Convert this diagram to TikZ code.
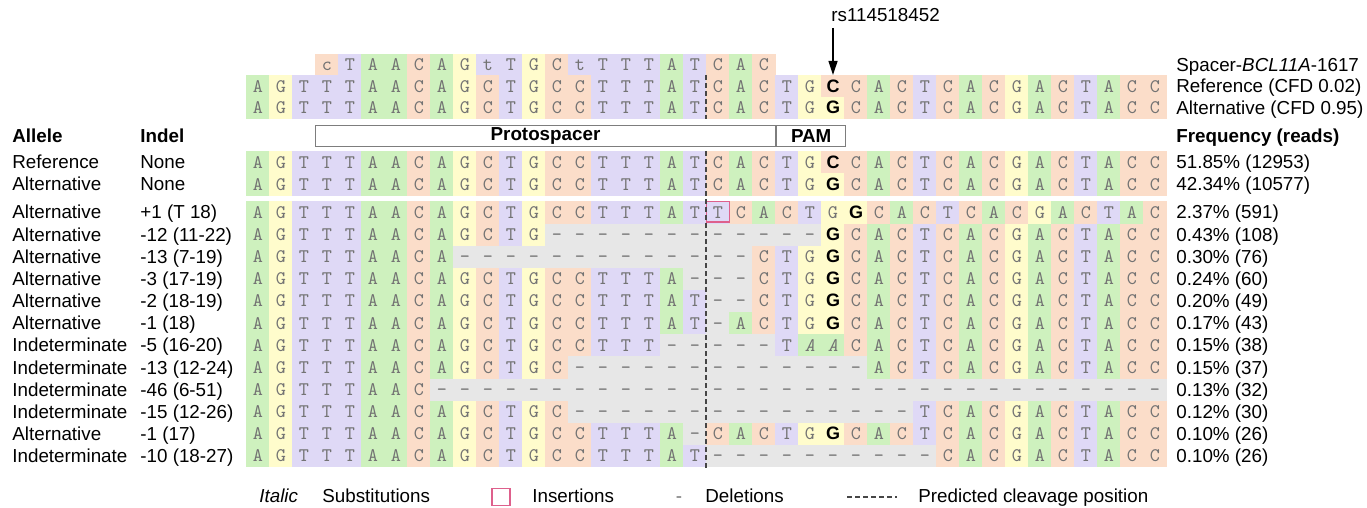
\documentclass[tikz,border=0pt]{standalone}
\usepackage{fontspec}
\setmainfont{Liberation Sans}
\setsansfont{Liberation Sans}
\usetikzlibrary{arrows.meta}

% cell colours, one per letter code
\definecolor{ntfillA}{RGB}{206,241,190}
\definecolor{ntfillC}{RGB}{251,221,201}
\definecolor{ntfillG}{RGB}{255,252,204}
\definecolor{ntfillT}{RGB}{223,217,246}
\definecolor{ntfillD}{RGB}{231,231,231}
\colorlet{ntfillc}{ntfillC}
\colorlet{ntfillt}{ntfillT}
\colorlet{ntfillX}{ntfillC}
\colorlet{ntfillY}{ntfillG}
\colorlet{ntfillI}{ntfillA}
\definecolor{ntgray}{RGB}{115,115,115}
\definecolor{boxgray}{RGB}{125,125,125}
\definecolor{insred}{RGB}{222,96,140}
\definecolor{cutgray}{RGB}{70,70,70}

% what each letter code prints
\newcommand\ntA{A}
\newcommand\ntC{C}
\newcommand\ntG{G}
\newcommand\ntT{T}
\newcommand\ntc{c}
\newcommand\ntt{t}
\newcommand\ntD{-}
\newcommand\ntX{\color{black}\sffamily\bfseries\fontsize{9}{10}\selectfont C}
\newcommand\ntY{\color{black}\sffamily\bfseries\fontsize{9}{10}\selectfont G}
\newcommand\ntI{\itshape A}

% one alignment row: name, y, first column, letter codes
\newcommand\seqrow[4]{%
  \foreach \b [count=\i from #3] in {#4}
    \node[nt=\b] (#1-\i) at ({246.5+(\i+0.5)*23}, #2) {\csname nt\b\endcsname};}

\begin{document}
\begin{tikzpicture}[
  x=0.5pt, y=-0.5pt,
  font=\fontsize{9.4}{11}\selectfont,
  lbl/.style={anchor=west, inner sep=0pt, text height=7.5pt, text depth=1pt},
  hdr/.style={lbl, font=\fontsize{9.4}{11}\selectfont\bfseries},
  nt/.style={rectangle, inner sep=0pt, minimum width=11.6pt, minimum height=11.1pt,
             text height=5.8pt, text depth=0pt, text=ntgray, fill=ntfill#1,
             font=\ttfamily\fontsize{9.6}{10}\selectfont},
  tagbox/.style={rectangle, draw=boxgray, line width=0.6pt, inner sep=0pt,
                 minimum height=10.25pt, font=\fontsize{9.4}{11}\selectfont\bfseries},
  cleave/.style={draw=cutgray, line width=0.8pt, dash pattern=on 2.5pt off 1.5pt},
  insbox/.style={draw=insred, line width=0.6pt},
  arr/.style={-{Triangle[length=7pt,width=4.5pt]}, line width=0.6pt}
]
\useasboundingbox (0,0) rectangle (1367,508);

% --- Spacer y alelos del SNP ---
\seqrow{spc}{65}{3}{c,T,A,A,C,A,G,t,T,G,C,t,T,T,T,A,T,C,A,C}
\seqrow{tref}{86.5}{0}{A,G,T,T,T,A,A,C,A,G,C,T,G,C,C,T,T,T,A,T,C,A,C,T,G,X,C,A,C,T,C,A,C,G,A,C,T,A,C,C}
\seqrow{talt}{108}{0}{A,G,T,T,T,A,A,C,A,G,C,T,G,C,C,T,T,T,A,T,C,A,C,T,G,Y,C,A,C,T,C,A,C,G,A,C,T,A,C,C}
\draw[cleave] (tref-20.north west) -- (talt-20.south west);

\node[lbl] (spclbl) at (1176,65) {Spacer-\textit{BCL11A}-1617};
\node[lbl] (treflbl) at (1176,86.5) {Reference (CFD 0.02)};
\node[lbl] (taltlbl) at (1176,108) {Alternative (CFD 0.95)};

\node[lbl] (rs) at (831,15) {rs114518452};
\path (tref-25.north |- rs.south) coordinate (rsfoot);
\draw[arr] ([yshift=-2pt]rsfoot) -- (tref-25.north);

% --- Encabezado ---
\node[hdr] (allele) at (12,136) {Allele};
\node[hdr] (indel) at (140,136) {Indel};
\node[tagbox, minimum width=230pt] (proto) at (545.5,136) {Protospacer};
\node[tagbox, minimum width=34.5pt, anchor=west] (pam) at (proto.east) {PAM};
\node[hdr] (freq) at (1176,136) {Frequency (reads)};

% --- Alelos ---
\seqrow{mref}{162.5}{0}{A,G,T,T,T,A,A,C,A,G,C,T,G,C,C,T,T,T,A,T,C,A,C,T,G,X,C,A,C,T,C,A,C,G,A,C,T,A,C,C}
\seqrow{malt}{184.5}{0}{A,G,T,T,T,A,A,C,A,G,C,T,G,C,C,T,T,T,A,T,C,A,C,T,G,Y,C,A,C,T,C,A,C,G,A,C,T,A,C,C}
\seqrow{r1}{212.5}{0}{A,G,T,T,T,A,A,C,A,G,C,T,G,C,C,T,T,T,A,T,T,C,A,C,T,G,Y,C,A,C,T,C,A,C,G,A,C,T,A,C}
\seqrow{r2}{234.65}{0}{A,G,T,T,T,A,A,C,A,G,C,T,G,D,D,D,D,D,D,D,D,D,D,D,D,Y,C,A,C,T,C,A,C,G,A,C,T,A,C,C}
\seqrow{r3}{256.8}{0}{A,G,T,T,T,A,A,C,A,D,D,D,D,D,D,D,D,D,D,D,D,D,C,T,G,Y,C,A,C,T,C,A,C,G,A,C,T,A,C,C}
\seqrow{r4}{278.95}{0}{A,G,T,T,T,A,A,C,A,G,C,T,G,C,C,T,T,T,A,D,D,D,C,T,G,Y,C,A,C,T,C,A,C,G,A,C,T,A,C,C}
\seqrow{r5}{301.1}{0}{A,G,T,T,T,A,A,C,A,G,C,T,G,C,C,T,T,T,A,T,D,D,C,T,G,Y,C,A,C,T,C,A,C,G,A,C,T,A,C,C}
\seqrow{r6}{323.25}{0}{A,G,T,T,T,A,A,C,A,G,C,T,G,C,C,T,T,T,A,T,D,A,C,T,G,Y,C,A,C,T,C,A,C,G,A,C,T,A,C,C}
\seqrow{r7}{345.4}{0}{A,G,T,T,T,A,A,C,A,G,C,T,G,C,C,T,T,T,D,D,D,D,D,T,I,I,C,A,C,T,C,A,C,G,A,C,T,A,C,C}
\seqrow{r8}{367.55}{0}{A,G,T,T,T,A,A,C,A,G,C,T,G,C,D,D,D,D,D,D,D,D,D,D,D,D,D,A,C,T,C,A,C,G,A,C,T,A,C,C}
\seqrow{r9}{389.7}{0}{A,G,T,T,T,A,A,C,D,D,D,D,D,D,D,D,D,D,D,D,D,D,D,D,D,D,D,D,D,D,D,D,D,D,D,D,D,D,D,D}
\seqrow{r10}{411.85}{0}{A,G,T,T,T,A,A,C,A,G,C,T,G,C,D,D,D,D,D,D,D,D,D,D,D,D,D,D,D,T,C,A,C,G,A,C,T,A,C,C}
\seqrow{r11}{434}{0}{A,G,T,T,T,A,A,C,A,G,C,T,G,C,C,T,T,T,A,D,C,A,C,T,G,Y,C,A,C,T,C,A,C,G,A,C,T,A,C,C}
\seqrow{r12}{456.15}{0}{A,G,T,T,T,A,A,C,A,G,C,T,G,C,C,T,T,T,A,T,D,D,D,D,D,D,D,D,D,D,C,A,C,G,A,C,T,A,C,C}

\draw[insbox] ([xshift=0.3pt,yshift=-0.3pt]r1-20.north west)
      rectangle ([xshift=-0.3pt,yshift=1pt]r1-20.south east);
\draw[cleave] (mref-20.north west) -- (r12-20.south west);

\foreach \y/\al/\ind/\fr [count=\k] in {
    162.5/Reference/None/51.85\% (12953),
    184.5/Alternative/None/42.34\% (10577),
    212.5/Alternative/+1 (T 18)/2.37\% (591),
    234.65/Alternative/-12 (11-22)/0.43\% (108),
    256.8/Alternative/-13 (7-19)/0.30\% (76),
    278.95/Alternative/-3 (17-19)/0.24\% (60),
    301.1/Alternative/-2 (18-19)/0.20\% (49),
    323.25/Alternative/-1 (18)/0.17\% (43),
    345.4/Indeterminate/-5 (16-20)/0.15\% (38),
    367.55/Indeterminate/-13 (12-24)/0.15\% (37),
    389.7/Indeterminate/-46 (6-51)/0.13\% (32),
    411.85/Indeterminate/-15 (12-26)/0.12\% (30),
    434/Alternative/-1 (17)/0.10\% (26),
    456.15/Indeterminate/-10 (18-27)/0.10\% (26)} {
  \node[lbl] (al\k) at (12,\y) {\al};
  \node[lbl] (id\k) at (140,\y) {\ind};
  \node[lbl] (fq\k) at (1176,\y) {\fr};
}

% --- Leyenda ---
\node[lbl, font=\fontsize{9.4}{11}\selectfont\itshape] (lgital) at (259,496) {Italic};
\node[lbl] (lgsub) at (322,496) {Substitutions};
\node[insbox, rectangle, minimum width=9pt, minimum height=8.5pt, inner sep=0pt] (lgbox) at (501,497) {};
\node[lbl] (lgins) at (532,496) {Insertions};
\node[lbl, anchor=center, text=ntgray] (lgdash) at (679,496) {-};
\node[lbl] (lgdel) at (705,496) {Deletions};
\coordinate (lgcutA) at (847,497);
\coordinate (lgcutB) at (897,497);
\draw[cleave, line width=0.55pt] (lgcutA) -- (lgcutB);
\node[lbl] (lgcut) at (918,496) {Predicted cleavage position};

\end{tikzpicture}
\end{document}
